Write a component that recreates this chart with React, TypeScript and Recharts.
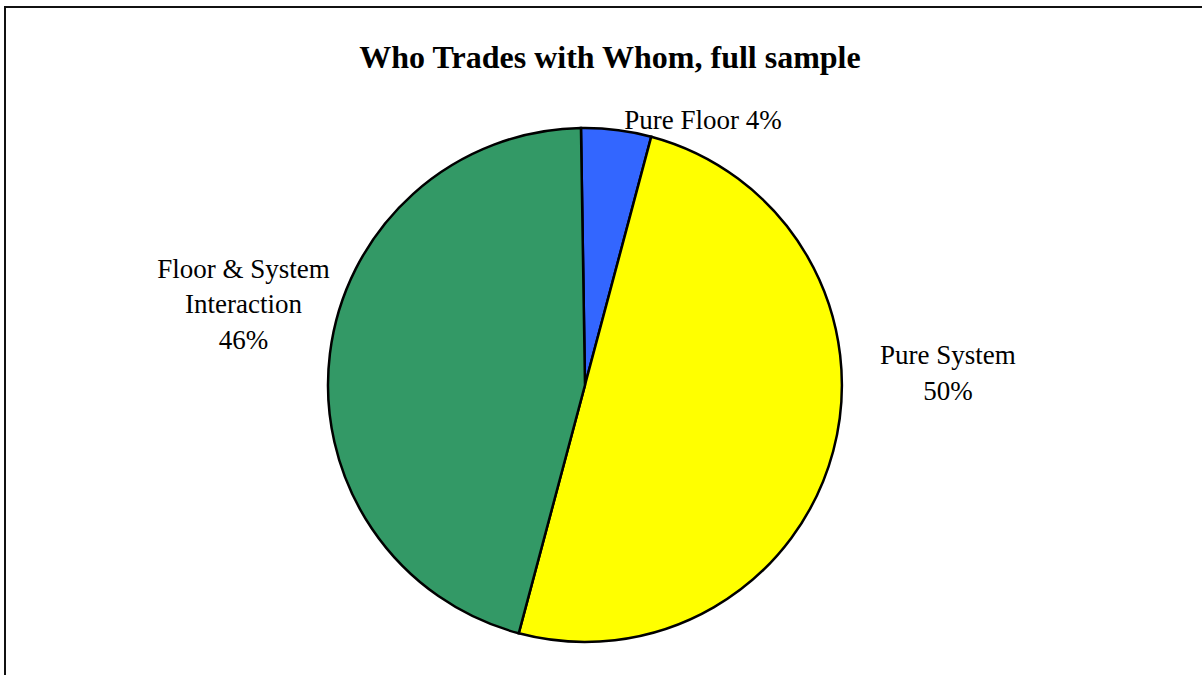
import { PieChart, Pie, Cell } from 'recharts'

const categories = ['Pure Floor', 'Pure System', 'Floor & System Interaction']
const shares = [4.4, 50.0, 45.6]
const sliceColors = ['#3366FF', '#FFFF00', '#339966']

// label lines, as printed on the chart (percent is appended from the data)
const labelLines: Record<string, string[]> = {
  'Pure Floor': ['Pure Floor'],
  'Pure System': ['Pure System'],
  'Floor & System Interaction': ['Floor & System', 'Interaction']
}

// where each label's first baseline sits, in units of the pie radius from its centre
const labelSpot: Record<string, { fx: number; fy: number; inline: boolean }> = {
  'Pure Floor': { fx: 0.459, fy: -0.998, inline: true },
  'Pure System': { fx: 1.412, fy: -0.08, inline: false },
  'Floor & System Interaction': { fx: -1.329, fy: -0.418, inline: false }
}

const data = categories.map((name, i) => ({ name, value: shares[i] }))

const FONT = '"Liberation Serif", "Times New Roman", serif'

const renderLabel = (props: any) => {
  const { cx, cy, outerRadius, name, percent } = props
  const spot = labelSpot[name]
  const x = cx + spot.fx * outerRadius
  const y = cy + spot.fy * outerRadius
  const pct = `${Math.round(percent * 100)}%`
  const lines = spot.inline
    ? [`${labelLines[name].join(' ')} ${pct}`]
    : [...labelLines[name], pct]
  return (
    <text
      x={x}
      y={y}
      textAnchor="middle"
      fill="#000"
      style={{ fontFamily: FONT, fontSize: 27 }}
    >
      {lines.map((t, i) => (
        <tspan key={i} x={x} dy={i === 0 ? 0 : 35.5}>
          {t}
        </tspan>
      ))}
    </text>
  )
}

export default function App() {
  return (
    <div
      style={{
        position: 'absolute',
        left: 0,
        top: 0,
        width: 1202,
        height: 675,
        overflow: 'hidden',
        background: '#fff'
      }}
    >
      <div
        style={{
          position: 'absolute',
          left: 4,
          top: 6,
          width: 1220,
          height: 700,
          border: '2px solid #111',
          boxSizing: 'border-box'
        }}
      />
      <svg
        width={1202}
        height={100}
        style={{ position: 'absolute', left: 0, top: 0 }}
      >
        <text
          x={610}
          y={68}
          textAnchor="middle"
          style={{ fontFamily: FONT, fontSize: 32, fontWeight: 'bold' }}
        >
          Who Trades with Whom, full sample
        </text>
      </svg>
      <div style={{ position: 'absolute', left: 0, top: 0 }}>
        <PieChart width={1202} height={675} margin={{ top: 0, right: 0, bottom: 0, left: 0 }}>
          <Pie
            data={data}
            dataKey="value"
            nameKey="name"
            cx={585}
            cy={385}
            outerRadius={257}
            startAngle={90.9}
            endAngle={-269.1}
            stroke="#000"
            strokeWidth={2.5}
            label={renderLabel}
            labelLine={false}
            isAnimationActive={false}
          >
            {data.map((d, i) => (
              <Cell key={d.name} fill={sliceColors[i]} />
            ))}
          </Pie>
        </PieChart>
      </div>
    </div>
  )
}
